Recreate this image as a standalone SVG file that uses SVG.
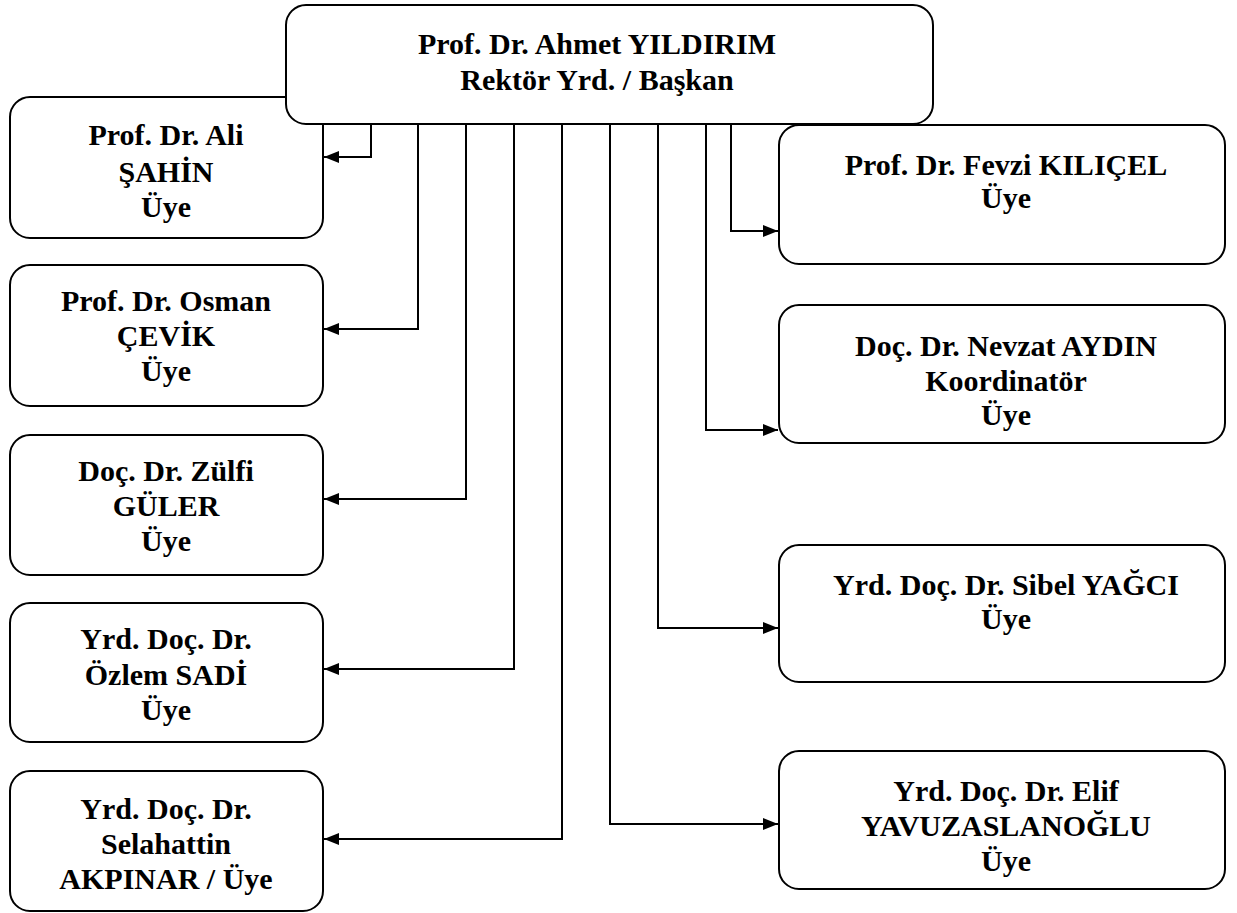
<svg xmlns="http://www.w3.org/2000/svg" width="1237" height="913" viewBox="0 0 1237 913">
<style>
.box{fill:#fff;stroke:#000;stroke-width:2}
.t{font-family:"Liberation Serif","Times New Roman",serif;font-weight:bold;font-size:30px;fill:#000;text-anchor:middle}
.c{fill:none;stroke:#000;stroke-width:2}
</style>
<defs>
<marker id="ah" viewBox="0 0 15 12" refX="15" refY="6" markerWidth="15" markerHeight="12" markerUnits="userSpaceOnUse" orient="auto">
<path d="M0,0 L15,6 L0,12 Z" fill="#000"/>
</marker>
</defs>
<g id="connectors">
<path class="c" d="M371,124 V157 H324" marker-end="url(#ah)"/>
<path class="c" d="M418,124 V329 H324" marker-end="url(#ah)"/>
<path class="c" d="M466,124 V499 H324" marker-end="url(#ah)"/>
<path class="c" d="M514,124 V669 H324" marker-end="url(#ah)"/>
<path class="c" d="M562,124 V839 H324" marker-end="url(#ah)"/>
<path class="c" d="M610,124 V824 H778" marker-end="url(#ah)"/>
<path class="c" d="M658,124 V628 H778" marker-end="url(#ah)"/>
<path class="c" d="M706,124 V430 H778" marker-end="url(#ah)"/>
<path class="c" d="M731,124 V231 H778" marker-end="url(#ah)"/>
</g>
<g id="n1">
<rect class="box" x="10" y="97" width="313" height="141" rx="20"/>
<text class="t" x="166" y="145">Prof. Dr. Ali</text>
<text class="t" x="166" y="182">ŞAHİN</text>
<text class="t" x="166" y="217">Üye</text>
</g>
<g id="n0">
<rect class="box" x="286" y="5" width="647" height="119" rx="20"/>
<text class="t" x="597" y="54">Prof. Dr. Ahmet YILDIRIM</text>
<text class="t" x="597" y="90">Rektör Yrd. / Başkan</text>
</g>
<g id="n2">
<rect class="box" x="10" y="265" width="313" height="141" rx="20"/>
<text class="t" x="166" y="311">Prof. Dr. Osman</text>
<text class="t" x="166" y="346">ÇEVİK</text>
<text class="t" x="166" y="381">Üye</text>
</g>
<g id="n3">
<rect class="box" x="10" y="435" width="313" height="140" rx="20"/>
<text class="t" x="166" y="481">Doç. Dr. Zülfi</text>
<text class="t" x="166" y="516">GÜLER</text>
<text class="t" x="166" y="551">Üye</text>
</g>
<g id="n4">
<rect class="box" x="10" y="603" width="313" height="139" rx="20"/>
<text class="t" x="166" y="649">Yrd. Doç. Dr.</text>
<text class="t" x="166" y="685">Özlem SADİ</text>
<text class="t" x="166" y="720">Üye</text>
</g>
<g id="n5">
<rect class="box" x="10" y="771" width="313" height="140" rx="20"/>
<text class="t" x="166" y="819">Yrd. Doç. Dr.</text>
<text class="t" x="166" y="854">Selahattin</text>
<text class="t" x="166" y="889">AKPINAR / Üye</text>
</g>
<g id="n6">
<rect class="box" x="779" y="125" width="446" height="139" rx="20"/>
<text class="t" x="1006" y="175">Prof. Dr. Fevzi KILIÇEL</text>
<text class="t" x="1006" y="208">Üye</text>
</g>
<g id="n7">
<rect class="box" x="779" y="305" width="446" height="138" rx="20"/>
<text class="t" x="1006" y="356">Doç. Dr. Nevzat AYDIN</text>
<text class="t" x="1006" y="391">Koordinatör</text>
<text class="t" x="1006" y="425">Üye</text>
</g>
<g id="n8">
<rect class="box" x="779" y="545" width="446" height="137" rx="20"/>
<text class="t" x="1006" y="595">Yrd. Doç. Dr. Sibel YAĞCI</text>
<text class="t" x="1006" y="629">Üye</text>
</g>
<g id="n9">
<rect class="box" x="779" y="751" width="446" height="138" rx="20"/>
<text class="t" x="1006" y="801">Yrd. Doç. Dr. Elif</text>
<text class="t" x="1006" y="836">YAVUZASLANOĞLU</text>
<text class="t" x="1006" y="871">Üye</text>
</g>
</svg>
